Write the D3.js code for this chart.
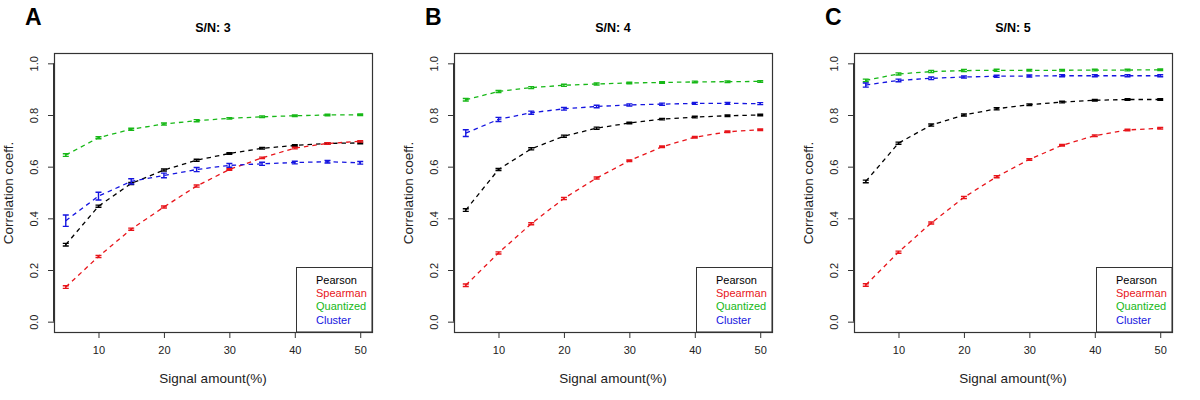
<!DOCTYPE html>
<html>
<head>
<meta charset="utf-8">
<script src="https://cdn.jsdelivr.net/npm/d3@7"></script>
<style>
  body { margin: 0; background: #fff; }
  text { font-family: "Liberation Sans", Arial, sans-serif; }
</style>
</head>
<body>
<svg id="chart" width="1200" height="400"></svg>
<script>
// signal amount (%) on x
const signal = [5, 10, 15, 20, 25, 30, 35, 40, 45, 50]
const methods = ['Pearson', 'Spearman', 'Quantized', 'Cluster']
const colors = ['#000000', '#e8141a', '#17b817', '#1515e0']
const letters = ['A', 'B', 'C']
const titles = ['S/N: 3', 'S/N: 4', 'S/N: 5']
const yTicks = [0, 0.2, 0.4, 0.6, 0.8, 1.0]
const xTicks = [10, 20, 30, 40, 50]

// S/N 3
const pearson3 = [0.298, 0.447, 0.535, 0.587, 0.625, 0.651, 0.671, 0.682, 0.690, 0.692]
const spearman3 = [0.134, 0.252, 0.358, 0.444, 0.525, 0.589, 0.634, 0.672, 0.690, 0.698]
const quantized3 = [0.645, 0.712, 0.745, 0.765, 0.778, 0.787, 0.793, 0.797, 0.800, 0.801]
const cluster3 = [0.391, 0.486, 0.543, 0.566, 0.589, 0.605, 0.611, 0.616, 0.619, 0.615]
const clusterErr3 = [0.022, 0.015, 0.010, 0.009, 0.008, 0.007, 0.006, 0.005, 0.005, 0.005]
// S/N 4
const pearson4 = [0.432, 0.589, 0.669, 0.718, 0.749, 0.769, 0.784, 0.792, 0.797, 0.800]
const spearman4 = [0.141, 0.266, 0.379, 0.477, 0.556, 0.623, 0.677, 0.714, 0.735, 0.743]
const quantized4 = [0.859, 0.891, 0.906, 0.915, 0.920, 0.924, 0.926, 0.928, 0.929, 0.930]
const cluster4 = [0.730, 0.783, 0.809, 0.824, 0.833, 0.839, 0.842, 0.845, 0.845, 0.844]
const clusterErr4 = [0.013, 0.008, 0.006, 0.005, 0.005, 0.004, 0.004, 0.004, 0.004, 0.004]
// S/N 5
const pearson5 = [0.543, 0.691, 0.761, 0.800, 0.824, 0.840, 0.850, 0.857, 0.860, 0.860]
const spearman5 = [0.142, 0.269, 0.382, 0.481, 0.561, 0.628, 0.683, 0.720, 0.742, 0.749]
const quantized5 = [0.934, 0.959, 0.968, 0.972, 0.973, 0.973, 0.973, 0.974, 0.974, 0.975]
const cluster5 = [0.916, 0.934, 0.942, 0.947, 0.950, 0.951, 0.952, 0.952, 0.952, 0.952]
const clusterErr5 = [0.008, 0.005, 0.005, 0.004, 0.004, 0.004, 0.004, 0.004, 0.004, 0.004]
// small spread for the other methods
const smallErr = [0.005, 0.004, 0.004, 0.004, 0.004, 0.003, 0.003, 0.003, 0.003, 0.003]

const panels = [
  [pearson3, spearman3, quantized3, cluster3, clusterErr3],
  [pearson4, spearman4, quantized4, cluster4, clusterErr4],
  [pearson5, spearman5, quantized5, cluster5, clusterErr5]
]

const svg = d3.select('#chart')
const box = {left: 54, right: 372, top: 53, bottom: 332}

// R style: 4% padding on each side
const x = d3.scaleLinear().domain([5 - 1.8, 50 + 1.8]).range([box.left, box.right])
const y = d3.scaleLinear().domain([-0.04, 1.04]).range([box.bottom, box.top])

const line = d3.line().x(d=>x(d[0])).y(d=>y(d[1]))

panels.forEach((p, i)=>{
    const g = svg.append('g').attr('transform', `translate(${i * 400},0)`)

    g.append('text').attr('x', 25).attr('y', 25)
        .attr('font-size', 23).attr('font-weight', 'bold').text(letters[i])
    g.append('text').attr('x', 213).attr('y', 32).attr('text-anchor', 'middle')
        .attr('font-size', 12.5).attr('font-weight', 'bold').text(titles[i])

    // x axis
    const xa = g.append('g').attr('transform', `translate(0,${box.bottom})`)
        .call(d3.axisBottom(x).tickValues(xTicks).tickSize(6).tickPadding(8).tickFormat(d3.format('d')))
    xa.select('.domain').attr('d', `M${x(10)},0.5H${x(50)}`).attr('stroke', '#333')
    xa.selectAll('.tick line').attr('stroke', '#333')
    xa.selectAll('text').attr('font-size', 11).attr('fill', '#222').attr('font-family', '"Liberation Sans", Arial, sans-serif')

    // y axis
    const ya = g.append('g').attr('transform', `translate(${box.left},0)`)
        .call(d3.axisLeft(y).tickValues(yTicks).tickSize(6).tickFormat(d3.format('.1f')))
    ya.select('.domain').attr('d', `M-0.5,${y(0)}V${y(1)}`).attr('stroke', '#333')
    ya.selectAll('.tick line').attr('stroke', '#333')
    ya.selectAll('.tick text')
        .attr('font-size', 11).attr('fill', '#222').attr('font-family', '"Liberation Sans", Arial, sans-serif')
        .attr('x', 0).attr('dy', 0)
        .attr('transform', 'translate(-16,0) rotate(-90)')
        .attr('text-anchor', 'middle')

    g.append('text').attr('transform', 'translate(13,193) rotate(-90)')
        .attr('text-anchor', 'middle').attr('font-size', 13.5).attr('fill', '#222')
        .text('Correlation coeff.')
    g.append('text').attr('x', 213).attr('y', 383).attr('text-anchor', 'middle')
        .attr('font-size', 13.5).attr('fill', '#222').text('Signal amount(%)')

    // series
    methods.forEach((m, k)=>{
        const vals = p[k]
        const errs = k === 3 ? p[4] : smallErr
        const pts = signal.map((s, j)=>[s, vals[j], errs[j]])
        g.append('path').datum(pts).attr('d', line)
            .attr('fill', 'none').attr('stroke', colors[k]).attr('stroke-width', 1.3)
            .attr('stroke-dasharray', '4.5,4')
        const eb = g.append('g').attr('stroke', colors[k]).attr('stroke-width', 1.4)
        eb.selectAll('path').data(pts).join('path')
            .attr('fill', 'none')
            .attr('d', d=>{
                const cx = x(d[0]), y0 = y(d[1] - d[2]), y1 = y(d[1] + d[2])
                return `M${cx - 3},${y0}H${cx + 3}M${cx},${y0}V${y1}M${cx - 3},${y1}H${cx + 3}`
            })
    })

    // legend
    const lg = g.append('g')
    lg.append('rect').attr('x', 296.5).attr('y', 267.5).attr('width', box.right - 296.5).attr('height', box.bottom - 267.5)
        .attr('fill', '#fff').attr('stroke', '#333')
    methods.forEach((m, k)=>{
        lg.append('text').attr('x', 316).attr('y', 284 + k * 13.2)
            .attr('font-size', 11).attr('fill', colors[k]).text(m)
    })

    // plot box
    g.append('rect').attr('x', box.left + 0.5).attr('y', box.top + 0.5)
        .attr('width', box.right - box.left).attr('height', box.bottom - box.top)
        .attr('fill', 'none').attr('stroke', '#333').attr('stroke-width', 1.2)
})
</script>
</body>
</html>
